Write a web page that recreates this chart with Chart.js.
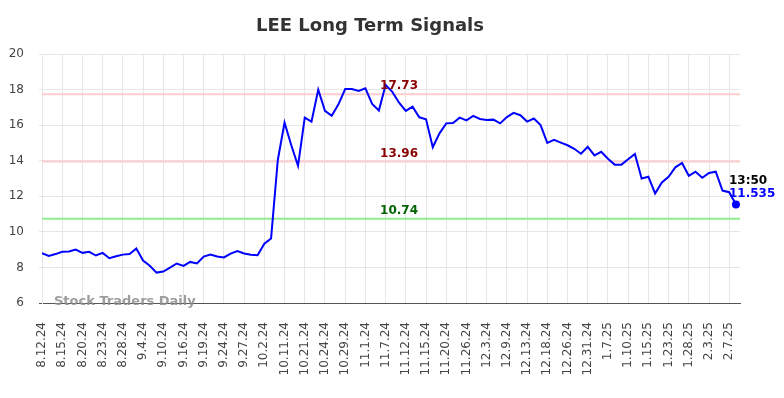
<!DOCTYPE html>
<html>
<head>
<meta charset="utf-8">
<script src="https://cdn.jsdelivr.net/npm/chart.js@4.4.1/dist/chart.umd.min.js"></script>
<style>
  html, body { margin: 0; padding: 0; background: #ffffff; }
  #wrap { width: 784px; height: 398px; }
</style>
</head>
<body>
<div id="wrap"><canvas id="c" width="784" height="398"></canvas></div>
<script>
// ---- data ----
const dates = [
  "8.12.24","8.13.24","8.14.24","8.15.24","8.16.24","8.19.24","8.20.24","8.21.24","8.22.24",
  "8.23.24","8.26.24","8.27.24","8.28.24","8.29.24","8.30.24","9.4.24","9.5.24","9.6.24",
  "9.10.24","9.11.24","9.12.24","9.16.24","9.17.24","9.18.24","9.19.24","9.20.24","9.23.24",
  "9.24.24","9.25.24","9.26.24","9.27.24","9.30.24","10.1.24","10.2.24","10.4.24","10.9.24",
  "10.11.24","10.15.24","10.17.24","10.21.24","10.22.24","10.23.24","10.24.24","10.25.24","10.28.24",
  "10.29.24","10.30.24","10.31.24","11.1.24","11.4.24","11.6.24","11.7.24","11.8.24","11.11.24",
  "11.12.24","11.13.24","11.14.24","11.15.24","11.18.24","11.19.24","11.20.24","11.22.24","11.25.24",
  "11.26.24","11.27.24","11.29.24","12.3.24","12.4.24","12.6.24","12.9.24","12.10.24","12.12.24",
  "12.13.24","12.16.24","12.17.24","12.18.24","12.20.24","12.23.24","12.26.24","12.27.24","12.30.24",
  "12.31.24","1.2.25","1.6.25","1.7.25","1.8.25","1.9.25","1.10.25","1.13.25","1.14.25",
  "1.15.25","1.17.25","1.21.25","1.23.25","1.24.25","1.27.25","1.28.25","1.30.25","1.31.25",
  "2.3.25","2.4.25","2.6.25","2.7.25","2.10.25"
];
const prices = [
  8.80,8.65,8.75,8.88,8.90,9.00,8.82,8.88,8.67,
  8.82,8.52,8.63,8.72,8.76,9.06,8.39,8.09,7.71,
  7.77,7.99,8.22,8.09,8.31,8.22,8.61,8.72,8.61,
  8.56,8.78,8.92,8.78,8.71,8.69,9.33,9.63,14.04,
  16.14,14.87,13.71,16.42,16.20,17.99,16.80,16.53,17.17,
  18.03,18.03,17.92,18.07,17.19,16.82,18.26,17.87,17.26,
  16.80,17.04,16.44,16.33,14.76,15.54,16.10,16.12,16.42,
  16.27,16.52,16.35,16.29,16.31,16.10,16.45,16.69,16.56,
  16.20,16.37,16.00,15.00,15.17,15.02,14.87,14.67,14.39,
  14.78,14.30,14.50,14.11,13.78,13.78,14.08,14.38,13.00,
  13.10,12.16,12.78,13.10,13.63,13.87,13.15,13.38,13.04,
  13.31,13.38,12.32,12.23,11.535
];
const levelValues = [17.73, 13.96, 10.74];
const levelLabels = ["17.73", "13.96", "10.74"];
const levelLineColors = ["#ffcccc", "#ffcccc", "#90ee90"];
const levelTextColors = ["#8b0000", "#8b0000", "#006400"];
const yTicks = [6, 8, 10, 12, 14, 16, 18, 20];
const lastTime = "13:50";
const lastPriceLabel = "11.535";
const titleText = "LEE Long Term Signals";
const watermark = "Stock Traders Daily";
const labelEvery = 3;

const FONT = "'DejaVu Sans', sans-serif";

const levelsPlugin = {
  id: 'levels',
  beforeDatasetsDraw(chart) {
    const { ctx, chartArea, scales } = chart;
    ctx.save();
    levelValues.forEach((v, i) => {
      const y = scales.y.getPixelForValue(v);
      ctx.strokeStyle = levelLineColors[i];
      ctx.lineWidth = 2;
      ctx.beginPath();
      ctx.moveTo(chartArea.left, y);
      ctx.lineTo(chartArea.right, y);
      ctx.stroke();
    });
    ctx.restore();
  },
  afterDatasetsDraw(chart) {
    const { ctx, scales } = chart;
    ctx.save();
    ctx.font = "bold 12px " + FONT;
    ctx.textAlign = 'center';
    ctx.textBaseline = 'middle';
    const lx = scales.x.getPixelForValue(53);
    levelValues.forEach((v, i) => {
      const y = scales.y.getPixelForValue(v);
      ctx.fillStyle = levelTextColors[i];
      ctx.fillText(levelLabels[i], lx, y - 8);
    });
    // last point label
    const n = prices.length - 1;
    const px = scales.x.getPixelForValue(n);
    const py = scales.y.getPixelForValue(prices[n]);
    ctx.textAlign = 'left';
    ctx.fillStyle = '#000000';
    ctx.fillText(lastTime, px - 7, py - 24);
    ctx.fillStyle = '#0000ff';
    ctx.fillText(lastPriceLabel, px - 7, py - 11);
    ctx.restore();
  },
  afterDraw(chart) {
    const { ctx, chartArea } = chart;
    ctx.save();
    ctx.font = "bold 13px " + FONT;
    ctx.fillStyle = 'rgba(140,140,140,0.85)';
    ctx.textAlign = 'left';
    ctx.textBaseline = 'middle';
    ctx.fillText(watermark, chartArea.left + 12, chartArea.bottom - 1);
    ctx.restore();
  }
};

new Chart(document.getElementById('c'), {
  type: 'line',
  data: {
    datasets: [{
      data: prices.map((v, i) => ({ x: i, y: v })),
      borderColor: '#0000ff',
      backgroundColor: '#0000ff',
      borderWidth: 2,
      tension: 0,
      fill: false,
      pointRadius: (c) => c.dataIndex === prices.length - 1 ? 4 : 0,
      pointHoverRadius: 0,
      pointBackgroundColor: '#0000ff',
      pointBorderWidth: 0
    }]
  },
  options: {
    responsive: false,
    animation: false,
    devicePixelRatio: 1,
    events: [],
    layout: { padding: { left: 0, right: 44, top: 0, bottom: 0 } },
    plugins: {
      legend: { display: false },
      tooltip: { enabled: false },
      title: {
        display: true,
        text: titleText,
        color: '#333333',
        font: { family: FONT, size: 18, weight: 'bold' },
        padding: { top: 16, bottom: 16.4 }
      }
    },
    scales: {
      x: {
        type: 'linear',
        min: 0,
        max: prices.length - 1 + 0.6,
        afterFit: (s) => { s.height = 95; },
        afterBuildTicks: (s) => {
          const t = [];
          for (let i = 0; i < dates.length; i += labelEvery) t.push({ value: i });
          s.ticks = t;
        },
        grid: {
          drawTicks: false,
          color: '#e6e6e6',
          lineWidth: 1
        },
        border: { display: true, color: '#555555', width: 1 },
        ticks: {
          autoSkip: false,
          maxRotation: 90,
          minRotation: 90,
          padding: 19,
          color: '#444444',
          font: { family: FONT, size: 12 },
          callback: (val) => dates[val]
        }
      },
      y: {
        min: 6,
        max: 20,
        afterFit: (s) => { s.width = 42; },
        afterBuildTicks: (s) => { s.ticks = yTicks.map(v => ({ value: v })); },
        grid: {
          color: (c) => c.tick && c.tick.value === 6 ? '#555555' : '#e6e6e6',
          tickLength: 3,
          lineWidth: 1
        },
        border: { display: true, color: '#e6e6e6' },
        ticks: {
          padding: 15,
          color: '#444444',
          font: { family: FONT, size: 12 }
        }
      }
    }
  },
  plugins: [levelsPlugin]
});
</script>
</body>
</html>
